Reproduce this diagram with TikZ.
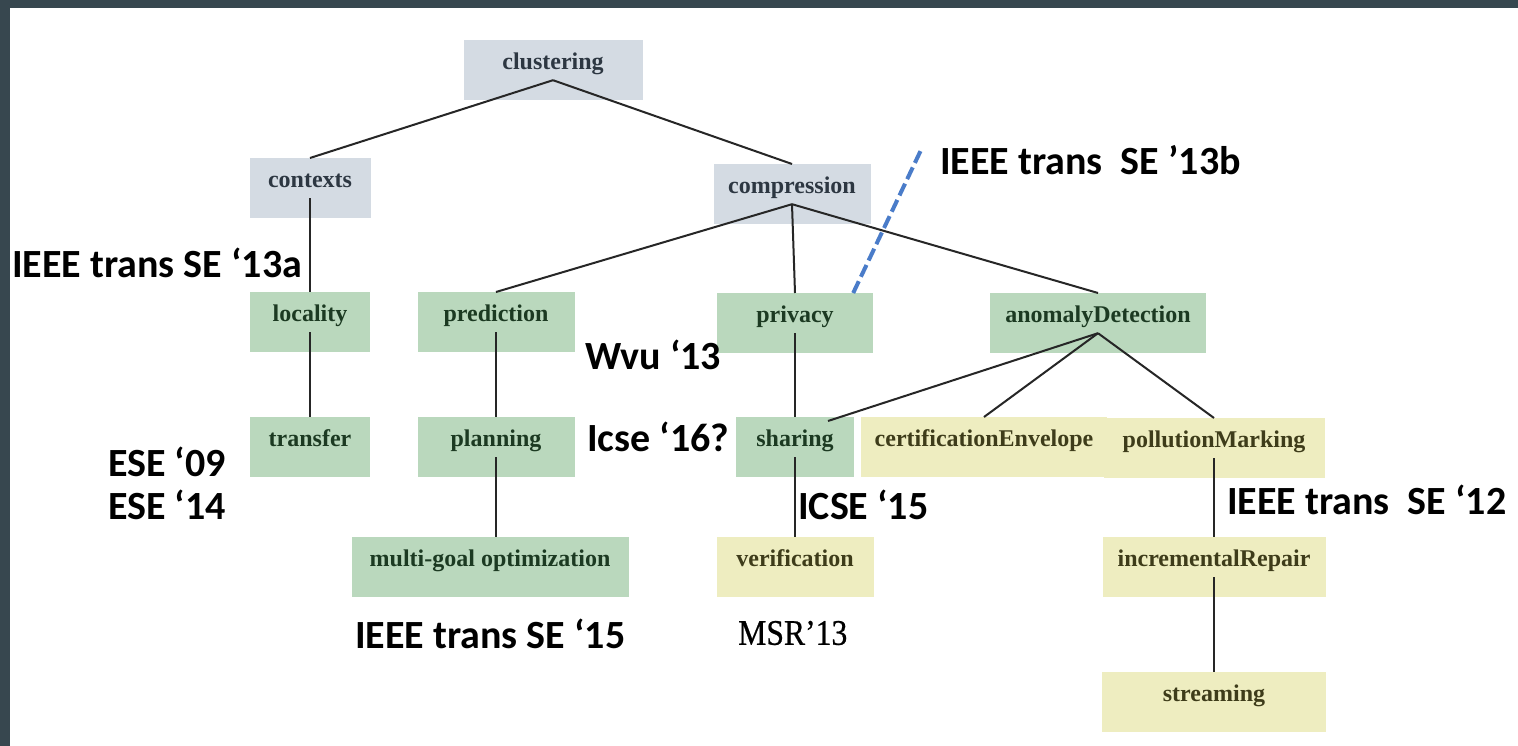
\documentclass[tikz,border=0pt]{standalone}
\usepackage{fontspec}
\setmainfont{Liberation Serif}
\newfontfamily\notefont{Carlito}
\newfontfamily\msrfont[FakeStretch=0.88,FakeBold=0.6]{Liberation Serif}
\usepackage{tikz}
\usetikzlibrary{positioning,calc}

\definecolor{slate}{RGB}{55,71,79}
\definecolor{greybox}{RGB}{212,219,227}
\definecolor{greenbox}{RGB}{186,216,189}
\definecolor{yellowbox}{RGB}{238,237,192}
\definecolor{greytext}{RGB}{45,55,66}
\definecolor{greentext}{RGB}{28,58,34}
\definecolor{yellowtext}{RGB}{62,60,26}
\definecolor{dashblue}{RGB}{74,124,201}

\begin{document}
\begin{tikzpicture}[
    x=1pt, y=-1pt,
    box/.style={rectangle, anchor=north, inner xsep=0pt, inner ysep=0pt, text height=29.5pt, text depth=30.5pt, font=\fontsize{24}{28}\selectfont\bfseries},
    box1/.style={box, fill=greybox, text=greytext},
    box2/.style={box, fill=greenbox, text=greentext},
    box3/.style={box, fill=yellowbox, text=yellowtext},
    link/.style={draw=black!85, line width=2pt},
    dashlink/.style={draw=dashblue, line width=4pt, dash pattern=on 13pt off 5pt},
    note/.style={anchor=west, inner sep=0pt, font=\notefont\fontsize{40}{44}\selectfont\bfseries}
]
    % frame
    \useasboundingbox (0,0) rectangle (1518,746);
    \fill[slate] (0,0) rectangle (1518,746);
    \fill[white] (10,8) rectangle (1518,746);

    % tree nodes
    \node [box1, minimum width=179pt] (clustering) at (553,40) {clustering};
    \node [box1, minimum width=121pt] (contexts) at (310,158) {contexts};
    \node [box1, minimum width=157pt] (compression) at (792,164) {compression};
    \node [box2, minimum width=120pt] (locality) at (310,292) {locality};
    \node [box2, minimum width=157pt] (prediction) at (496,292) {prediction};
    \node [box2, minimum width=156pt] (privacy) at (795,293) {privacy};
    \node [box2, minimum width=216pt] (anomaly) at (1098,293) {anomalyDetection};
    \node [box2, minimum width=120pt] (transfer) at (310,417) {transfer};
    \node [box2, minimum width=157pt] (planning) at (496,417) {planning};
    \node [box2, minimum width=118pt] (sharing) at (795,417) {sharing};
    \node [box3, minimum width=246pt] (certification) at (984,417) {certificationEnvelope};
    \node [box3, minimum width=221pt] (pollution) at (1214,418) {pollutionMarking};
    \node [box2, minimum width=277pt] (multigoal) at (490,537) {multi-goal optimization};
    \node [box3, minimum width=157pt] (verification) at (795,537) {verification};
    \node [box3, minimum width=223pt] (repair) at (1214,537) {incrementalRepair};
    \node [box3, minimum width=224pt] (streaming) at (1214,672) {streaming};

    % edges
    \draw [link] ([yshift=-10pt]clustering.center) -- (contexts.north);
    \draw [link] ([yshift=-10pt]clustering.center) -- (compression.north);
    \draw [link] ([yshift=-10pt]contexts.center) -- (locality.north);
    \draw [link] ([yshift=-10pt]locality.center) -- (transfer.north);
    \draw [link] ([yshift=-10pt]compression.center) -- (prediction.north);
    \draw [link] ([yshift=-10pt]compression.center) -- (privacy.north);
    \draw [link] ([yshift=-10pt]compression.center) -- (anomaly.north);
    \draw [link] ([yshift=-10pt]prediction.center) -- (planning.north);
    \draw [link] ([yshift=-10pt]planning.center) -- ([xshift=6pt]multigoal.north);
    \draw [link] ([yshift=-10pt]privacy.center) -- (sharing.north);
    \draw [link] ([yshift=-10pt]sharing.center) -- (verification.north);
    \draw [link] ([yshift=-10pt]anomaly.center) -- ([xshift=33pt,yshift=-4pt]sharing.north);
    \draw [link] ([yshift=-10pt]anomaly.center) -- (certification.north);
    \draw [link] ([yshift=-10pt]anomaly.center) -- (pollution.north);
    \draw [link] ([yshift=-10pt]pollution.center) -- (repair.north);
    \draw [link] ([yshift=-10pt]repair.center) -- (streaming.north);

    % venues
    \node [note] (ieee13b) at (940,160) {IEEE trans~~SE ’13b};
    \node [note] (ieee13a) at (12,263) {IEEE trans SE ‘13a};
    \node [note] (ese09) at (108,462) {ESE ‘09};
    \node [note] (ese14) at (108,505) {ESE ‘14};
    \node [note] (wvu13) at (585,355) {Wvu ‘13};
    \node [note] (icse16) at (587,437) {Icse ‘16?};
    \node [note] (icse15) at (798,505) {ICSE ‘15};
    \node [note] (ieee12) at (1227,500) {IEEE trans~~SE ‘12};
    \node [note] (ieee15) at (355,634) {IEEE trans SE ‘15};
    \node [anchor=west, inner sep=0pt, font=\msrfont\fontsize{36}{40}\selectfont] (msr13) at (738,633) {MSR’13};

    \coordinate (tip13b) at (921,150);
    \draw [dashlink] ([xshift=-20pt]privacy.north east) -- (tip13b);
\end{tikzpicture}
\end{document}
